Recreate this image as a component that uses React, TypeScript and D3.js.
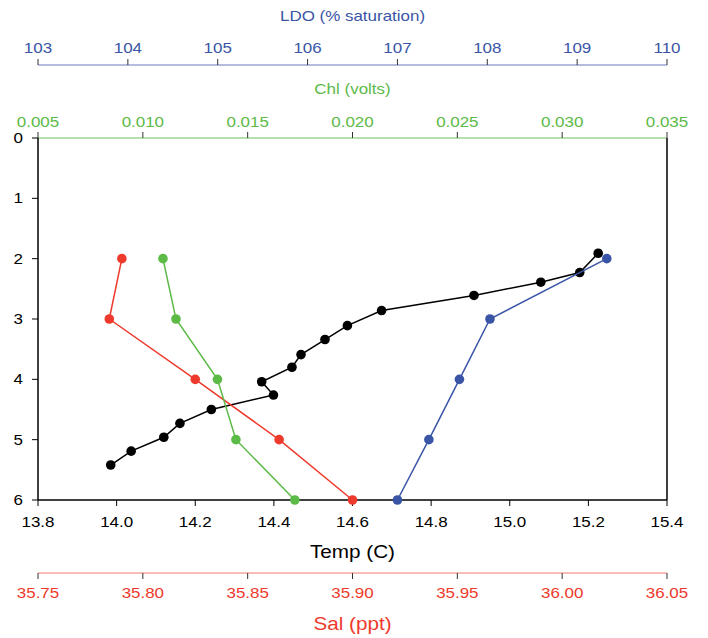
import React from "react";
import * as d3 from "d3";

const depthTicks = [0, 1, 2, 3, 4, 5, 6];
const tempTicks = [13.8, 14.0, 14.2, 14.4, 14.6, 14.8, 15.0, 15.2, 15.4];
const salTicks = [35.75, 35.8, 35.85, 35.9, 35.95, 36.0, 36.05];
const ldoTicks = [103, 104, 105, 106, 107, 108, 109, 110];
const chlTicks = [0.005, 0.01, 0.015, 0.02, 0.025, 0.03, 0.035];

const tempDepth = [1.91, 2.23, 2.39, 2.61, 2.86, 3.11, 3.34, 3.59, 3.8, 4.04, 4.26, 4.5, 4.73, 4.96, 5.19, 5.42];
const tempValues = [15.225, 15.178, 15.079, 14.909, 14.674, 14.587, 14.53, 14.469, 14.446, 14.369, 14.399, 14.241, 14.161, 14.12, 14.037, 13.985];

const profileDepth = [2, 3, 4, 5, 6];
const salValues = [35.79, 35.784, 35.825, 35.865, 35.9];
const chlValues = [0.01096, 0.01158, 0.01356, 0.01444, 0.01725];
const ldoValues = [109.33, 108.03, 107.69, 107.35, 107.0];

const W = 708;
const H = 638;
const L = 38;
const R = 667;
const T = 138;
const B = 500;

const BLUE = "#3a55a6";
const RED = "#ee3a2c";
const GREEN = "#5cba47";
const FONT = "Liberation Sans, Arial, sans-serif";

function Txt(props: { x: number; y: number; size: number; fill: string; anchor?: string; sx?: number; children: React.ReactNode }) {
  const { x, y, size, fill, anchor = "middle", sx = 1.17, children } = props;
  return (
    <text transform={`translate(${x},${y}) scale(${sx},1)`} textAnchor={anchor} fontSize={size} fill={fill}>
      {children}
    </text>
  );
}

export default function App() {
  const y = d3.scaleLinear().domain([0, 6]).range([T, B]);
  const xT = d3.scaleLinear().domain([13.8, 15.4]).range([L, R]);
  const xS = d3.scaleLinear().domain([35.75, 36.05]).range([L, R]);
  const xL = d3.scaleLinear().domain([103, 110]).range([L, R]);
  const xC = d3.scaleLinear().domain([0.005, 0.035]).range([L, R]);

  const series = [
    { color: "#000", xs: tempValues, ds: tempDepth, sc: xT },
    { color: RED, xs: salValues, ds: profileDepth, sc: xS },
    { color: GREEN, xs: chlValues, ds: profileDepth, sc: xC },
    { color: BLUE, xs: ldoValues, ds: profileDepth, sc: xL },
  ];

  const fmt2 = d3.format(".2f");
  const fmt1 = d3.format(".1f");
  const fmt3 = d3.format(".3f");
  const cx = (L + R) / 2;
  const fs = 14.5;

  return (
    <svg width={W} height={H} style={{ position: "absolute", left: 0, top: 0, background: "#fff" }} fontFamily={FONT}>
      {/* LDO axis */}
      <Txt x={cx} y={21} size={fs} fill={BLUE}>LDO (% saturation)</Txt>
      <line x1={L} x2={R} y1={65} y2={65} stroke="#6a78b8" strokeWidth={1} />
      {ldoTicks.map((t) => (
        <g key={"l" + t}>
          <line x1={xL(t)} x2={xL(t)} y1={59} y2={65} stroke="#333" strokeWidth={1} />
          <Txt x={xL(t)} y={53} size={fs} fill={BLUE}>{t}</Txt>
        </g>
      ))}

      {/* Chl axis */}
      <Txt x={cx} y={94} size={fs} fill={GREEN}>Chl (volts)</Txt>
      <line x1={L} x2={R} y1={T} y2={T} stroke="#b5dfab" strokeWidth={2} />
      {chlTicks.map((t) => (
        <g key={"c" + t}>
          <line x1={xC(t)} x2={xC(t)} y1={T - 6} y2={T} stroke="#333" strokeWidth={1} />
          <Txt x={xC(t)} y={127} size={fs} fill={GREEN}>{fmt3(t)}</Txt>
        </g>
      ))}

      {/* frame */}
      <line x1={L} x2={L} y1={T} y2={B} stroke="#000" strokeWidth={1.5} />
      <line x1={R} x2={R} y1={T} y2={B} stroke="#000" strokeWidth={1.5} />
      <line x1={L} x2={R} y1={B} y2={B} stroke="#000" strokeWidth={1.5} />

      {/* depth axis */}
      {depthTicks.map((t) => (
        <g key={"d" + t}>
          <line x1={L - 6} x2={L} y1={y(t)} y2={y(t)} stroke="#000" strokeWidth={1} />
          <Txt x={23} y={y(t) + 5} size={fs} fill="#000" anchor="end">{t}</Txt>
        </g>
      ))}

      {/* temp axis */}
      {tempTicks.map((t) => (
        <g key={"t" + t}>
          <line x1={xT(t)} x2={xT(t)} y1={B} y2={B + 6} stroke="#000" strokeWidth={1} />
          <Txt x={xT(t)} y={527} size={fs} fill="#000">{fmt1(t)}</Txt>
        </g>
      ))}
      <Txt x={cx} y={558} size={18} sx={1.15} fill="#000">Temp (C)</Txt>

      {/* sal axis */}
      <line x1={L} x2={R} y1={573} y2={573} stroke="#f07a70" strokeWidth={1} />
      {salTicks.map((t) => (
        <g key={"s" + t}>
          <line x1={xS(t)} x2={xS(t)} y1={573} y2={579} stroke="#333" strokeWidth={1} />
          <Txt x={xS(t)} y={598} size={fs} fill={RED}>{fmt2(t)}</Txt>
        </g>
      ))}
      <Txt x={cx} y={630} size={18} sx={1.15} fill={RED}>Sal (ppt)</Txt>

      {/* series */}
      {series.map((s, i) => {
        const pts: [number, number][] = s.xs.map((v, j) => [s.sc(v), y(s.ds[j])]);
        const path = d3.line()(pts) || "";
        return (
          <g key={"s" + i}>
            <path d={path} fill="none" stroke={s.color} strokeWidth={1.5} />
            {pts.map((p, j) => (
              <circle key={j} cx={p[0]} cy={p[1]} r={4.8} fill={s.color} />
            ))}
          </g>
        );
      })}
    </svg>
  );
}
